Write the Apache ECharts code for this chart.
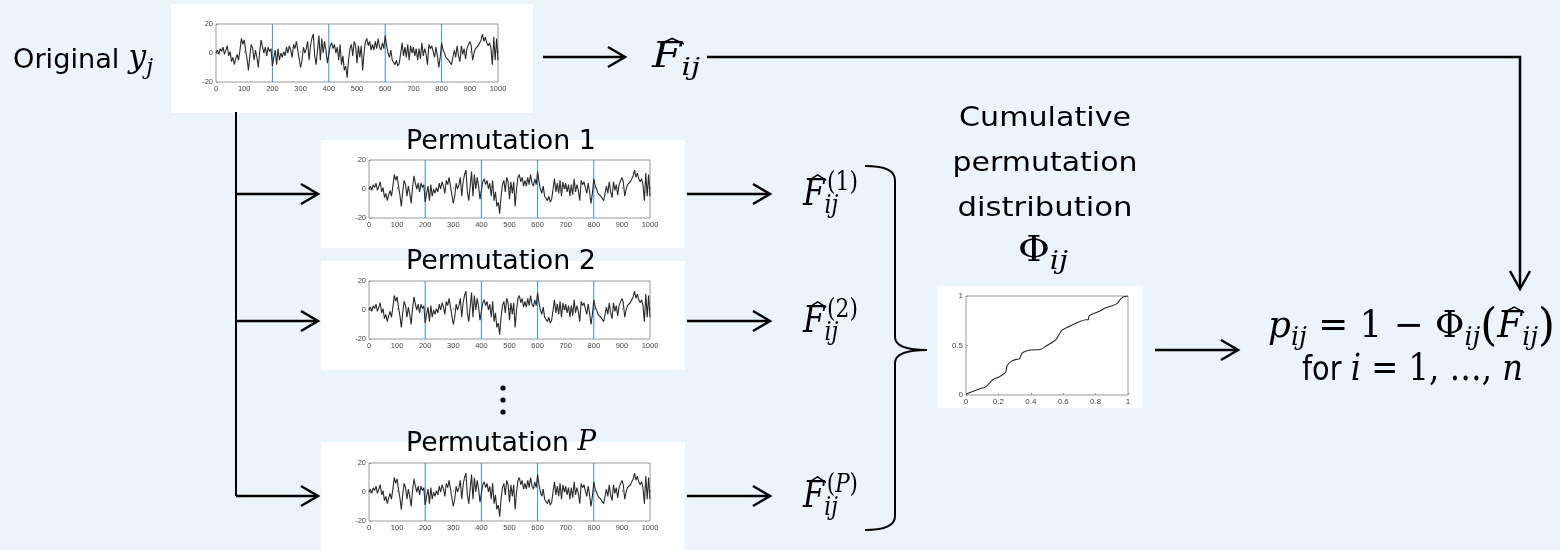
<!DOCTYPE html>
<html><head><meta charset="utf-8">
<script src="https://cdn.jsdelivr.net/npm/echarts@6/dist/echarts.min.js"></script>
<style>html,body{margin:0;padding:0;background:#EBF4F8;}#c{width:1560px;height:550px;}</style>
</head><body><div id="c"></div>
<script>
// ---------- DATA ----------
// time series values, one value every SAMPLE_STEP time units, 0..1000
const SAMPLE_STEP = 5;
const seriesY = [
  0,2,-1,3,1,4,-1,2,5,-2,1,-6,-3,-8,-4,-1,-5,2,10,6,9,2,-4,-12,-2,6,3,-5,2,-3,-10,1,9,4,0,4,-2,4,1,3,
  -9,-3,2,-8,3,-5,0,-3,1,-2,4,0,5,2,-3,6,3,8,9,-4,-10,-5,4,0,3,8,-5,5,10,13,-2,-8,2,12,-5,10,0,8,2,-7,
  -6,5,7,3,6,0,4,-5,6,-8,-2,-12,-9,-17,-5,3,6,-2,8,5,-7,5,-3,5,-12,0,8,10,5,8,2,6,2,8,3,10,4,2,7,3,
  12,5,0,-3,2,-5,-6,-8,-5,-9,-7,0,7,-2,4,-3,6,-5,5,0,4,-2,3,-5,3,-4,7,-2,3,-1,-8,6,3,5,1,-3,4,-2,-10,-3,
  7,2,0,-3,-4,-5,-4,-8,-3,2,-3,5,-2,-6,5,-1,3,-4,3,2,8,5,-5,0,3,2,5,4,9,13,8,11,7,5,7,3,-8,11,-5,10,-5
];
const blockBounds = [200, 400, 600, 800];
const tsXAxis = [0, 1000, 100];   // min, max, interval
const tsYAxis = [-20, 20, 20];
const cdfX = [0,0.05,0.1,0.12,0.15,0.17,0.2,0.23,0.245,0.255,0.28,0.31,0.33,0.345,0.37,0.4,0.46,0.5,0.54,0.56,0.59,0.62,0.66,0.7,0.74,0.755,0.76,0.8,0.83,0.86,0.9,0.93,0.95,0.97,1];
const cdfY = [0.01,0.04,0.07,0.08,0.13,0.16,0.18,0.21,0.23,0.3,0.34,0.36,0.365,0.42,0.445,0.455,0.46,0.5,0.54,0.57,0.65,0.68,0.71,0.74,0.76,0.76,0.8,0.83,0.85,0.88,0.9,0.92,0.96,0.99,1];
const cdfXAxis = [0, 1, 0.2];
const cdfYAxis = [0, 1, 0.5];
const permNames = ['1', '2', 'P'];
const cumulativeLines = ['Cumulative', 'permutation', 'distribution'];

// ---------- BUILD ----------
const tsData = seriesY.map((v, i) => [i * SAMPLE_STEP, v]);
const cdfData = cdfX.map((x, i) => [x, cdfY[i]]);

const K = '#000';
const MATH = 'DejaVu Serif', SANS = 'DejaVu Sans';
const MID = 0.35;
const G = [];
const ctx = document.createElement('canvas').getContext('2d');
function fnt(p){ return (p.it ? 'italic ' : '') + p.s + 'px "' + (p.f || MATH) + '"'; }
function meas(p){ ctx.font = fnt(p); return ctx.measureText(p.t).width; }
function poly(pts, w){ return {type:'polyline', z:20, shape:{points:pts}, style:{stroke:K, lineWidth:w || 2.5, fill:null, lineJoin:'miter', lineCap:'butt'}}; }
function line(pts, w){ G.push(poly(pts, w)); }
function arrowR(x1, x2, y){ line([[x1, y],[x2 - 2, y]]); line([[x2 - 17, y - 10],[x2, y],[x2 - 17, y + 10]]); }
function rect(x1, y1, x2, y2){ G.push({type:'rect', z:-10, shape:{x:x1, y:y1, width:x2 - x1, height:y2 - y1}, style:{fill:'#fff'}}); }
function run(x, base, align, items, target){
  const parts = []; let cx = 0;
  items.forEach(it => {
    if (it.stack) {
      let m = 0;
      it.stack.forEach(seq => { let sx = cx; seq.forEach(p => { const w = meas(p); parts.push({p, x:sx + (p.dx || 0), w}); sx += w + (p.dx || 0); }); m = Math.max(m, sx - cx); });
      cx += m;
    } else { const w = meas(it); parts.push({p:it, x:cx + (it.dx || 0), w}); cx += w + (it.dx || 0) + (it.after || 0); }
  });
  const k = target ? target / cx : 1;
  const W = cx * k;
  const x0 = align === 'center' ? x - W / 2 : align === 'right' ? x - W : x;
  parts.forEach(({p, x:px, w}) => {
    const bx = x0 + px * k, by = base + (p.dy || 0);
    G.push({type:'text', z:20, x:bx, y:by - MID * p.s, scaleX:k,
      style:{text:p.t, fontSize:p.s, fontFamily:p.f || MATH, fontStyle:p.it ? 'italic' : 'normal', fill:K,
        textAlign:'left', textVerticalAlign:'middle', align:'left', verticalAlign:'middle'}});
    if (p.hat) { const top = by - 0.73 * p.s - 2; const ww = w * k;
      line([[bx + 0.28 * ww, top + 1.5],[bx + 0.68 * ww, top - 4],[bx + 1.08 * ww, top + 1.5]], 1.5); }
  });
}
const M = 37, SUB = 26, SUBDY = 7, SUPDY = -16, PR = 27;
const Fij = () => [{t:'F', it:1, s:M, hat:1}];

// white panels
rect(171, 4, 533, 113);
rect(321, 140, 685, 248);
rect(321, 261, 685, 370);
rect(321, 442, 685, 552);
rect(937, 286, 1143, 408);

// Original y_j
run(13, 70, 'left', [{t:'Original', f:SANS, s:PR, after:9},{t:'y', it:1, s:31},{t:'j', it:1, s:22, dy:6}], 140);
// top path
arrowR(543, 625, 57);
run(652, 70, 'left', [{t:'F', it:1, s:35, hat:1}, {t:'ij', it:1, s:24, dy:SUBDY}], 48);
line([[707, 57],[1520, 57],[1520, 288]]);
line([[1510, 271],[1520, 289],[1530, 271]]);

// trunk + branches
line([[236, 112],[236, 496]], 2);
const rows = [194, 321, 496];
rows.forEach(y => arrowR(236, 318, y));
rows.forEach(y => arrowR(687, 770, y));

// permutation labels
const labelBase = [151, 271, 453];
permNames.forEach((n, i) => {
  const items = n === 'P'
    ? [{t:'Permutation ', f:SANS, s:PR},{t:'P', it:1, s:28}]
    : [{t:'Permutation ' + n, f:SANS, s:PR}];
  run(501, labelBase[i], 'center', items, 190);
  const sup = n === 'P'
    ? [{t:'(', s:SUB, dy:SUPDY, dx:3},{t:'P', it:1, s:SUB, dy:SUPDY},{t:')', s:SUB, dy:SUPDY}]
    : [{t:'(' + n + ')', s:SUB, dy:SUPDY, dx:3}];
  run(803, rows[i] + 14, 'left', [...Fij(), {stack:[sup, [{t:'ij', it:1, s:SUB, dy:SUBDY}]]}], 55);
});
// vertical dots
[388, 400, 412].forEach(y => G.push({type:'circle', z:20, shape:{cx:503, cy:y, r:2.6}, style:{fill:K}}));

// brace
const bz = (x1, y1, cx, cy, x2, y2) => G.push({type:'bezierCurve', z:20, shape:{x1, y1, x2, y2, cpx1:cx, cpy1:cy}, style:{stroke:K, lineWidth:2, fill:null}});
bz(865, 166, 895, 166, 895, 180);
line([[895, 180],[895, 337]], 2);
bz(895, 337, 895, 350, 927, 350);
bz(927, 350, 895, 350, 895, 363);
line([[895, 363],[895, 516]], 2);
bz(895, 516, 895, 530, 865, 530);

// cumulative text
const cumW = [172, 185, 175];
cumulativeLines.forEach((t, i) => run(1045, 128 + 45 * i, 'center', [{t, f:SANS, s:PR}], cumW[i]));
run(1043, 264, 'center', [{t:'Φ', s:35},{t:'ij', it:1, s:SUB, dy:SUBDY}], 50);

// arrow to formula and formula
arrowR(1155, 1238, 350);
run(1268, 340, 'left', [
  {t:'p', it:1, s:M},{t:'ij', it:1, s:SUB, dy:SUBDY},{t:' = 1 − Φ', s:M},{t:'ij', it:1, s:SUB, dy:SUBDY},
  {t:'(', s:45, dy:4},{t:'F', it:1, s:M, hat:1},{t:'ij', it:1, s:SUB, dy:SUBDY},{t:')', s:45, dy:4}
], 287);
run(1302, 383, 'left', [{t:'for ', f:SANS, s:33},{t:'i', it:1, s:M},{t:' = 1, …, ', s:M},{t:'n', it:1, s:M}], 221);

// ---------- CHART ----------
const plotAreas = [
  {left:216, top:24, width:282, height:58},
  {left:369, top:160, width:281, height:58},
  {left:369, top:281, width:281, height:58},
  {left:369, top:463, width:281, height:58},
  {left:966, top:296, width:162, height:99}
];
const lab = {fontSize:7.5, color:'#444', fontFamily:'Liberation Sans', margin:3, formatter:v => String(v)};
const axisCommon = {axisLine:{show:false}, splitLine:{show:false},
  axisTick:{inside:true, length:2, lineStyle:{color:'#888', width:0.8}}};
const xAxes = [], yAxes = [], series = [];
plotAreas.forEach((g, i) => {
  const isCdf = i === 4;
  const xr = isCdf ? cdfXAxis : tsXAxis, yr = isCdf ? cdfYAxis : tsYAxis;
  xAxes.push(Object.assign({}, axisCommon, {type:'value', gridIndex:i, min:xr[0], max:xr[1], interval:xr[2],
    axisLabel:Object.assign({}, lab, {fontSize:isCdf ? 8 : 7.5, showMinLabel:true, showMaxLabel:true})}));
  yAxes.push(Object.assign({}, axisCommon, {type:'value', gridIndex:i, min:yr[0], max:yr[1], interval:yr[2],
    axisLabel:Object.assign({}, lab, {fontSize:isCdf ? 8 : 7.5, showMinLabel:true, showMaxLabel:true})}));
  if (!isCdf) {
    blockBounds.forEach(b => series.push({type:'line', xAxisIndex:i, yAxisIndex:i, z:1,
      data:[[b, tsYAxis[0]], [b, tsYAxis[1]]], showSymbol:false, animation:false, silent:true,
      lineStyle:{color:'#3b8fd6', width:1}}));
  }
  series.push({type:'line', xAxisIndex:i, yAxisIndex:i, z:2, data:isCdf ? cdfData : tsData, showSymbol:false,
    smooth:isCdf ? 0.3 : false, animation:false, silent:true,
    lineStyle:{color:'#2a2a2a', width:1.1}});
});

const chart = echarts.init(document.getElementById('c'), null, {renderer:'canvas'});
chart.setOption({
  backgroundColor:'#EBF4F8',
  animation:false,
  grid:plotAreas.map(g => Object.assign({show:true, borderColor:'#999', borderWidth:1, backgroundColor:'transparent', containLabel:false}, g)),
  xAxis:xAxes, yAxis:yAxes, series,
  graphic:{elements:G}
});
</script></body></html>
